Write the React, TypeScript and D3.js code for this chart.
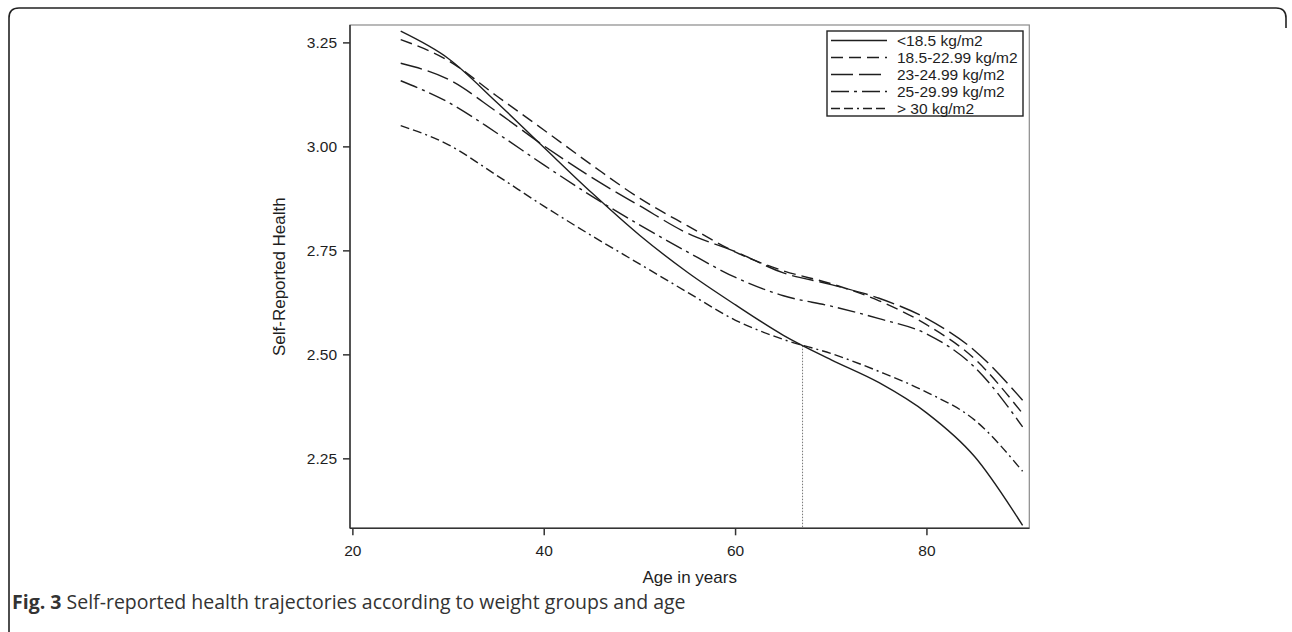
import React from "react";
import * as d3 from "d3";

const ages = [25, 30, 35, 40, 45, 50, 55, 60, 65, 70, 75, 80, 85, 90];

const under185 = [3.278, 3.212, 3.108, 2.998, 2.889, 2.787, 2.698, 2.62, 2.547, 2.488, 2.433, 2.36, 2.255, 2.09];
const bmi185to2299 = [3.258, 3.207, 3.123, 3.04, 2.956, 2.876, 2.81, 2.747, 2.702, 2.671, 2.63, 2.572, 2.49, 2.359];
const bmi23to2499 = [3.201, 3.162, 3.085, 3.002, 2.926, 2.858, 2.792, 2.748, 2.697, 2.669, 2.636, 2.587, 2.51, 2.391];
const bmi25to2999 = [3.159, 3.107, 3.034, 2.956, 2.881, 2.812, 2.747, 2.686, 2.642, 2.617, 2.587, 2.55, 2.47, 2.327];
const over30 = [3.051, 3.005, 2.932, 2.857, 2.786, 2.718, 2.65, 2.583, 2.537, 2.503, 2.46, 2.41, 2.343, 2.22];

const seriesNames = ["<18.5 kg/m2", "18.5-22.99 kg/m2", "23-24.99 kg/m2", "25-29.99 kg/m2", "> 30 kg/m2"];
const seriesValues = [under185, bmi185to2299, bmi23to2499, bmi25to2999, over30];
const dashes = ["none", "12,6", "22,6", "18,5,3,5", "9,4,9,4,2,4"];

const xTicks = [20, 40, 60, 80];
const yTicks = [2.25, 2.5, 2.75, 3.0, 3.25];

// crossing marked with the dotted line
const crossAge = 67;
const crossValue = 2.522;

const W = 1292;
const H = 632;
const font = "'Liberation Sans', Arial, sans-serif";
const ink = "#1e1e1e";

export default function App() {
  const x = d3.scaleLinear().domain([19.7, 90.7]).range([350, 1029.3]);
  const y = d3.scaleLinear().domain([2.083, 3.293]).range([528.3, 25]);

  const line = d3
    .line<number>()
    .x((_, i) => x(ages[i]))
    .y((d) => y(d))
    .curve(d3.curveMonotoneX);

  const [x0, x1] = x.range();
  const [y0, y1] = y.range();

  return (
    <svg
      width={W}
      height={H}
      style={{ position: "absolute", left: 0, top: 0, background: "#fff" }}
    >
      {/* figure frame */}
      <path
        d={`M9,632 L9,18 Q9,8 19,8 L1276,8 Q1286,8 1286,18 L1286,28`}
        fill="none"
        stroke="#222"
        strokeWidth={1.6}
      />

      {/* plot frame */}
      <rect x={x0} y={y1} width={x1 - x0} height={y0 - y1} fill="none" stroke="#8a8a8a" strokeWidth={1.2} />
      <line x1={x0} x2={x0} y1={y1} y2={y0} stroke="#333" strokeWidth={1.5} />
      <line x1={x0} x2={x1} y1={y0} y2={y0} stroke="#333" strokeWidth={1.5} />

      {/* y axis */}
      {yTicks.map((t) => (
        <g key={t}>
          <line x1={x0 - 7} x2={x0} y1={y(t)} y2={y(t)} stroke="#333" strokeWidth={1.5} />
          <text
            x={x0 - 13}
            y={y(t)}
            dy="0.35em"
            textAnchor="end"
            fontFamily={font}
            fontSize={15.5}
            fill={ink}
          >
            {d3.format(".2f")(t)}
          </text>
        </g>
      ))}
      <text
        transform={`translate(285,${(y0 + y1) / 2}) rotate(-90)`}
        textAnchor="middle"
        fontFamily={font}
        fontSize={17}
        fill={ink}
      >
        Self-Reported Health
      </text>

      {/* x axis */}
      {xTicks.map((t) => (
        <g key={t}>
          <line x1={x(t)} x2={x(t)} y1={y0} y2={y0 + 7} stroke="#333" strokeWidth={1.5} />
          <text x={x(t)} y={556} textAnchor="middle" fontFamily={font} fontSize={15.5} fill={ink}>
            {t}
          </text>
        </g>
      ))}
      <text x={(x0 + x1) / 2} y={583} textAnchor="middle" fontFamily={font} fontSize={17} fill={ink}>
        Age in years
      </text>

      {/* dotted reference line */}
      <line
        x1={x(crossAge)}
        x2={x(crossAge)}
        y1={y(crossValue)}
        y2={y0}
        stroke="#777"
        strokeWidth={1}
        strokeDasharray="1.5,1.5"
      />

      {/* trajectories */}
      {seriesValues.map((vals, i) => (
        <path
          key={seriesNames[i]}
          d={line(vals) || ""}
          fill="none"
          stroke={ink}
          strokeWidth={1.4}
          strokeDasharray={dashes[i]}
        />
      ))}

      {/* legend */}
      <rect x={827} y={31} width={196} height={85} fill="#fff" stroke="#222" strokeWidth={1.4} />
      {seriesNames.map((name, i) => (
        <g key={name} transform={`translate(831,${40.5 + i * 17})`}>
          <line x1={0} x2={56} y1={0} y2={0} stroke={ink} strokeWidth={1.4} strokeDasharray={dashes[i]} />
          <text x={66} y={0} dy="0.35em" fontFamily={font} fontSize={15.5} fill={ink}>
            {name}
          </text>
        </g>
      ))}

      {/* caption */}
      <text x={12} y={609} fontFamily="'Open Sans', sans-serif" fontSize={19.5} fill="#333">
        <tspan fontWeight={700}>Fig. 3</tspan>
        <tspan> Self-reported health trajectories according to weight groups and age</tspan>
      </text>
    </svg>
  );
}
